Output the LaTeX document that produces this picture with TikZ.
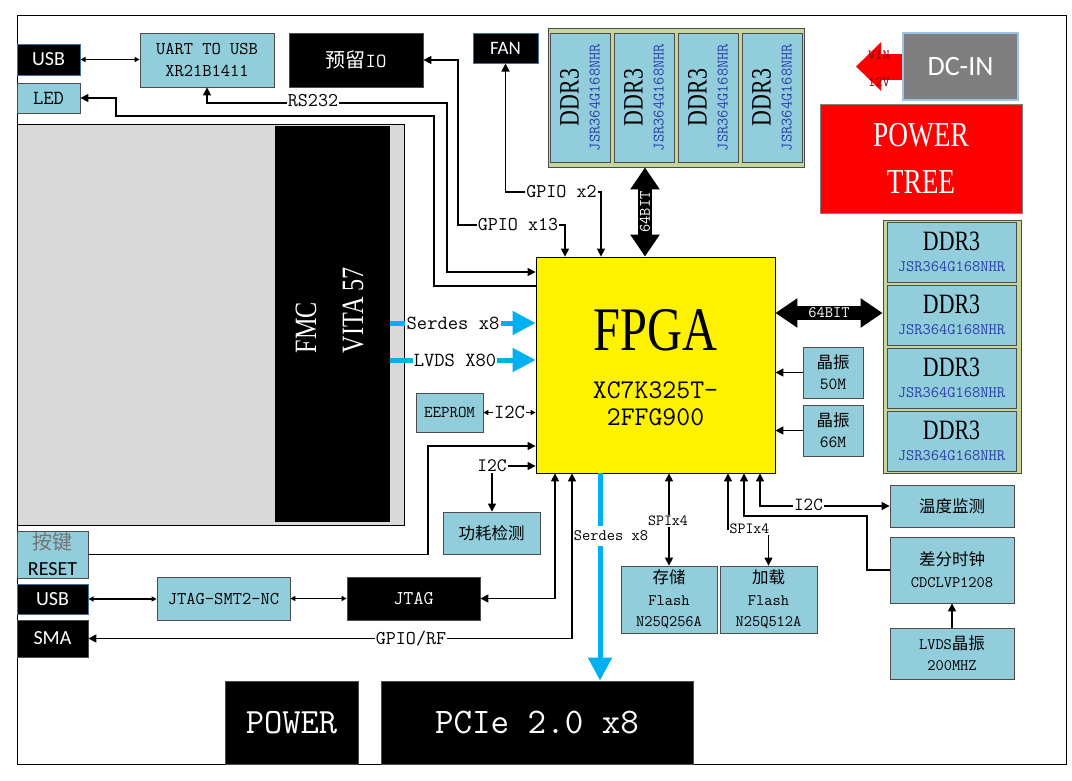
\documentclass[tikz,border=0pt]{standalone}
\usepackage{fontspec}
\setmainfont{Liberation Serif}
\newcommand\simfont{\ttfamily}
\newfontfamily\narrowfont[FakeStretch=0.78]{Liberation Serif}
\newfontfamily\cjk{Noto Sans CJK SC}
\newfontfamily\uifont{Carlito}
\newcommand\fsz[2]{\fontsize{#1}{#2}\selectfont}
\usetikzlibrary{arrows.meta}
\definecolor{boxblue}{HTML}{92CDDC}
\definecolor{ddrkhaki}{HTML}{C4D79B}
\definecolor{edgeblue}{HTML}{41719C}
\definecolor{jsrblue}{HTML}{2A3FA8}
\definecolor{fmcgray}{HTML}{D9D9D9}
\definecolor{dcgray}{HTML}{7F7F7F}
\definecolor{dcedge}{HTML}{9DC3E6}
\definecolor{serdescyan}{HTML}{00B0F0}
\definecolor{vinred}{HTML}{7F0000}
\tikzset{
  blk/.style={draw=black!70, line width=0.8pt, inner sep=0pt, align=center},
  cyanbox/.style={blk, fill=boxblue},
  darkbox/.style={blk, fill=black, text=white},
  lbl/.style={inner sep=1pt, font=\simfont\fsz{19.5}{24}},
  link/.style={draw, line width=1.4pt, ->},
  duplex/.style={link, <->},
  thintip/.style={>={Triangle[length=5pt,width=5pt]}},
  bus64/.style={draw, line width=14pt, {Triangle[length=22pt,width=28pt]}-{Triangle[length=22pt,width=28pt]}},
  cyanline/.style={draw=serdescyan, line width=5pt},
  cyanbus/.style={cyanline, -{Triangle[length=23pt,width=23pt]}},
  redarrow/.style={draw=red, line width=26pt, -{Triangle[length=25pt,width=47pt]}}
}
\begin{document}
\begin{tikzpicture}[x=1pt, y=-1pt, >={Triangle[length=8pt,width=8pt]}]
  \newcommand{\ddrtext}{{\narrowfont\fsz{28}{21}DDR3}\\{\color{jsrblue}JSR364G168NHR}}
  \fill[white] (0,0) rectangle (1072,780);
  \useasboundingbox (0,0) rectangle (1072,780);
  \draw[line width=1pt] (17,15) rectangle (1066,764);

  % FMC connector
  \node[fill=fmcgray, draw=black, line width=1pt, minimum width=387pt, minimum height=401pt] (fmc) at (210.5,324.5) {};
  \node[fill=black, inner sep=0pt, minimum width=115pt, minimum height=396pt] (fmcin) at (332.5,324) {};
  \node[rotate=90, align=left, text=white, inner sep=0pt, font=\narrowfont\fsz{31}{47}] (fmcname) at ([shift={(-3pt,14pt)}]fmcin.center) {FMC\\VITA 57};

  % top row
  \node[darkbox, draw=edgeblue, line width=1pt, minimum width=63pt, minimum height=31pt, font=\uifont\fsz{20}{24}] (usbtop) at (48.5,59.5) {USB};
  \node[cyanbox, minimum width=63pt, minimum height=30pt, font=\simfont\fsz{20}{24}] (led) at (48.5,98) {LED};
  \node[cyanbox, minimum width=134pt, minimum height=54pt, font=\simfont\fsz{18}{22.5}] (uart) at (207,60) {UART TO USB\\XR21B1411};
  \node[darkbox, minimum width=134pt, minimum height=54pt, font=\simfont\fsz{20}{24}] (rsvio) at (356,60) {{\cjk 预留}IO};
  \node[darkbox, draw=edgeblue, line width=1pt, minimum width=65pt, minimum height=30pt, font=\uifont\fsz{19}{23}] (fan) at (505.5,48) {FAN};

  % DDR3 above the FPGA
  \node[blk, fill=ddrkhaki, minimum width=256pt, minimum height=139pt] (ddrtop) at (676,97.5) {};
  \node[cyanbox, rotate=90, minimum width=129pt, minimum height=60pt, font=\simfont\fsz{16}{21}] (ddra) at (580,97.5) {\ddrtext};
  \node[cyanbox, rotate=90, minimum width=129pt, minimum height=60pt, font=\simfont\fsz{16}{21}] (ddrb) at (644,97.5) {\ddrtext};
  \node[cyanbox, rotate=90, minimum width=129pt, minimum height=60pt, font=\simfont\fsz{16}{21}] (ddrc) at (708,97.5) {\ddrtext};
  \node[cyanbox, rotate=90, minimum width=129pt, minimum height=60pt, font=\simfont\fsz{16}{21}] (ddrd) at (772,97.5) {\ddrtext};

  % power input
  \node[blk, fill=dcgray, draw=dcedge, line width=1.2pt, text=white, minimum width=115pt, minimum height=67pt, font=\uifont\fsz{28}{32}] (dcin) at (960.5,66.5) {DC-IN};
  \coordinate (vintip) at (856,66.5);
  \draw[redarrow] (dcin.west) -- (vintip);
  \node[align=center, inner sep=0pt, text=vinred, font=\simfont\fsz{14}{27}] (vinlbl) at (879,68.5) {VIN\\12V};
  \node[blk, fill=red, draw=black!50, text=white, minimum width=202pt, minimum height=109pt, font=\narrowfont\fsz{35}{47}] (ptree) at (921,158.5) {POWER\\TREE};

  % FPGA
  \node[blk, draw=black, fill=yellow, minimum width=239pt, minimum height=216pt] (fpga) at (655.5,365) {};
  \node[inner sep=0pt, font=\narrowfont\fsz{62}{62}] (fpganame) at ([yshift=35pt]fpga.center) {FPGA};
  \node[inner sep=0pt, font=\simfont\fsz{27}{30}] (fpgapna) at ([yshift=-25pt]fpga.center) {XC7K325T-};
  \node[inner sep=0pt, font=\simfont\fsz{27}{30}] (fpgapnb) at ([yshift=-52pt]fpga.center) {2FFG900};

  % DDR3 right of the FPGA
  \node[blk, fill=ddrkhaki, minimum width=138pt, minimum height=253pt] (ddrright) at (952,346.5) {};
  \node[cyanbox, minimum width=129pt, minimum height=60pt, font=\simfont\fsz{16}{21}] (ddre) at (951.5,252) {\ddrtext};
  \node[cyanbox, minimum width=129pt, minimum height=60pt, font=\simfont\fsz{16}{21}] (ddrf) at (951.5,315) {\ddrtext};
  \node[cyanbox, minimum width=129pt, minimum height=60pt, font=\simfont\fsz{16}{21}] (ddrg) at (951.5,378) {\ddrtext};
  \node[cyanbox, minimum width=129pt, minimum height=60pt, font=\simfont\fsz{16}{21}] (ddrh) at (951.5,441) {\ddrtext};
  \node[cyanbox, minimum width=60pt, minimum height=51pt, font=\simfont\fsz{17}{21}] (osca) at (833,372.5) {{\cjk\fsz{16.5}{21}晶振}\\50M};
  \node[cyanbox, minimum width=60pt, minimum height=51pt, font=\simfont\fsz{17}{21}] (oscb) at (833,430.5) {{\cjk\fsz{16.5}{21}晶振}\\66M};

  % left side
  \node[cyanbox, minimum width=67pt, minimum height=39pt, font=\simfont\fsz{16.5}{20}] (eeprom) at (449.5,412.5) {EEPROM};
  \node[cyanbox, minimum width=97pt, minimum height=42pt, font=\cjk\fsz{16.5}{20}] (pwrdet) at (491.5,533) {功耗检测};
  \node[cyanbox, minimum width=71pt, minimum height=47pt, font=\fsz{20}{26}] (rst) at (52.5,554.5) {{\cjk\color{black!55}按键}\\{\uifont RESET}};
  \node[darkbox, draw=edgeblue, line width=1pt, minimum width=71pt, minimum height=30pt, font=\uifont\fsz{20}{24}] (usbbot) at (52.5,599) {USB};
  \node[darkbox, minimum width=71pt, minimum height=37pt, font=\uifont\fsz{20}{24}] (sma) at (52.5,638.5) {SMA};
  \node[cyanbox, minimum width=133pt, minimum height=43pt, font=\simfont\fsz{18}{22}] (jtagsmt) at (223.5,598.5) {JTAG-SMT2-NC};
  \node[darkbox, minimum width=133pt, minimum height=43pt, font=\simfont\fsz{19.5}{24}] (jtag) at (413.5,598.5) {JTAG};
  \node[darkbox, minimum width=133pt, minimum height=83pt, font=\simfont\fsz{35.5}{40}] (power) at (291.5,722.5) {POWER};
  \node[darkbox, minimum width=312pt, minimum height=83pt, font=\simfont\fsz{36}{40}] (pcie) at (537,722.5) {PCIe 2.0 x8};

  % bottom right
  \node[cyanbox, minimum width=96pt, minimum height=67pt, font=\simfont\fsz{16}{21.5}] (flasha) at (669,599.5) {{\cjk\fsz{16.5}{21.5}存储}\\Flash\\N25Q256A};
  \node[cyanbox, minimum width=97pt, minimum height=67pt, font=\simfont\fsz{16}{21.5}] (flashb) at (768.5,599.5) {{\cjk\fsz{16.5}{21.5}加载}\\Flash\\N25Q512A};
  \node[cyanbox, minimum width=124pt, minimum height=42pt, font=\cjk\fsz{16.5}{20}] (temp) at (952,506) {温度监测};
  \node[cyanbox, minimum width=124pt, minimum height=66pt, font=\simfont\fsz{16}{22}] (clk) at (952,570) {{\cjk\fsz{16.5}{22}差分时钟}\\CDCLVP1208};
  \node[cyanbox, minimum width=124pt, minimum height=51pt, font=\simfont\fsz{16}{21}] (lvdsosc) at (952,653.5) {LVDS{\cjk\fsz{16.5}{21}晶振}\\200MHZ};

  % labels that connectors start from
  \node[lbl] (gpa) at (518,225) {GPIO x13};
  \node[lbl] (gpb) at (561.5,192) {GPIO x2};
  \node[lbl, font=\simfont\fsz{20}{24}] (sdlbl) at (453,323) {Serdes x8};
  \node[lbl, font=\simfont\fsz{20}{24}] (lvlbl) at (455,360) {LVDS X80};
  \node[lbl, font=\simfont\fsz{19}{24}] (i2cb) at (492,466) {I2C};
  \node[lbl, font=\simfont\fsz{15.5}{20}] (spiblbl) at (749.5,529) {SPIx4};

  % pins on the FPGA
  \coordinate (pinga) at ([xshift=-90.5pt]fpga.north);
  \coordinate (pingb) at ([xshift=-54.5pt]fpga.north);
  \coordinate (pinddr) at ([xshift=-10.5pt]fpga.north);
  \coordinate (pinrs) at ([yshift=93pt]fpga.west);
  \coordinate (pinled) at ([yshift=79pt]fpga.west);
  \coordinate (pinrst) at ([yshift=-81pt]fpga.west);
  \coordinate (pinddrb) at ([yshift=52pt]fpga.east);
  \coordinate (pinjtag) at ([xshift=-100.5pt]fpga.south);
  \coordinate (pinrf) at ([xshift=-83.5pt]fpga.south);
  \coordinate (pinpcie) at ([xshift=-55.5pt]fpga.south);
  \coordinate (pinspia) at ([xshift=13.5pt]fpga.south);
  \coordinate (pinspib) at ([xshift=72.5pt]fpga.south);
  \coordinate (pinclk) at ([xshift=88.5pt]fpga.south);
  \coordinate (pini2c) at ([xshift=104.5pt]fpga.south);

  % connectors
  \draw[thintip, duplex] (usbtop.east) -- (usbtop.east -| uart.west);
  \draw[duplex] (uart.south) |- (447,103) |- (pinrs);
  \draw[link] (pinled) -- (434,286) |- (116,116) |- (led.east);
  \draw[link] (gpa.west) -- (458,225) |- (rsvio.east);
  \draw[link] (gpa.east) -| (pinga);
  \draw[link] (gpb.west) -| (fan.south);
  \draw[link] (gpb.east) -| (pingb);
  \draw[bus64] (ddrtop.south -| pinddr) -- node[rotate=90, text=white, font=\simfont\fsz{16}{20}] (bitlbla) {64BIT} (pinddr);
  \draw[bus64] (pinddrb) -- node[text=white, font=\simfont\fsz{16}{20}] (bitlblb) {64BIT} (pinddrb -| ddrright.west);
  \draw[link] (osca.west) -- (osca.west -| fpga.east);
  \draw[link] (oscb.west) -- (oscb.west -| fpga.east);
  \draw[cyanline] (fmcin.east |- sdlbl.west) -- (sdlbl.west);
  \draw[cyanbus] (sdlbl.east) -- (sdlbl.east -| fpga.west);
  \draw[cyanline] (fmcin.east |- lvlbl.west) -- (lvlbl.west);
  \draw[cyanbus] (lvlbl.east) -- (lvlbl.east -| fpga.west);
  \draw[thintip, duplex] (eeprom.east) -- node[lbl, fill=white, font=\simfont\fsz{20}{24}] (i2ca) {I2C} (eeprom.east -| fpga.west);
  \draw[link] (rst.east) -- (428,554.5) |- (pinrst);
  \draw[link] (i2cb.east) -- (i2cb.east -| fpga.west);
  \draw[link] (i2cb.south) -- (i2cb.south |- pwrdet.north);
  \draw[thintip, duplex] (usbbot.east) -- (usbbot.east -| jtagsmt.west);
  \draw[thintip, duplex] (jtagsmt.east) -- (jtag.west);
  \draw[duplex] (jtag.east) -| (pinjtag);
  \draw[duplex] (sma.east) -| (pinrf);
  \draw[cyanbus] (pinpcie) -- (pinpcie |- pcie.north);
  \draw[duplex] (pinspia) -- (pinspia |- flasha.north);
  \draw[link] (spiblbl.west) -| (pinspib);
  \draw[link] (spiblbl.south -| flashb.north) -- (flashb.north);
  \draw[duplex] (pini2c) |- (temp.west);
  \draw[link] (clk.west) -| (867,516) -| (pinclk);
  \draw[link] (lvdsosc.north) -- (clk.south);

  % labels lying on connectors
  \node[lbl, fill=white] (rslbl) at (313,101) {RS232};
  \node[lbl, fill=white] (rflbl) at (411,638.5) {GPIO/RF};
  \node[lbl, fill=white, inner xsep=0.5pt, inner ysep=5pt, font=\simfont\fsz{16}{20}] (sdblbl) at (611,536) {Serdes x8};
  \node[lbl, fill=white, font=\simfont\fsz{15.5}{20}] (spialbl) at (668,521) {SPIx4};
  \node[lbl, fill=white, font=\simfont\fsz{18.5}{22}] (i2cc) at (808.5,505) {I2C};
\end{tikzpicture}
\end{document}
